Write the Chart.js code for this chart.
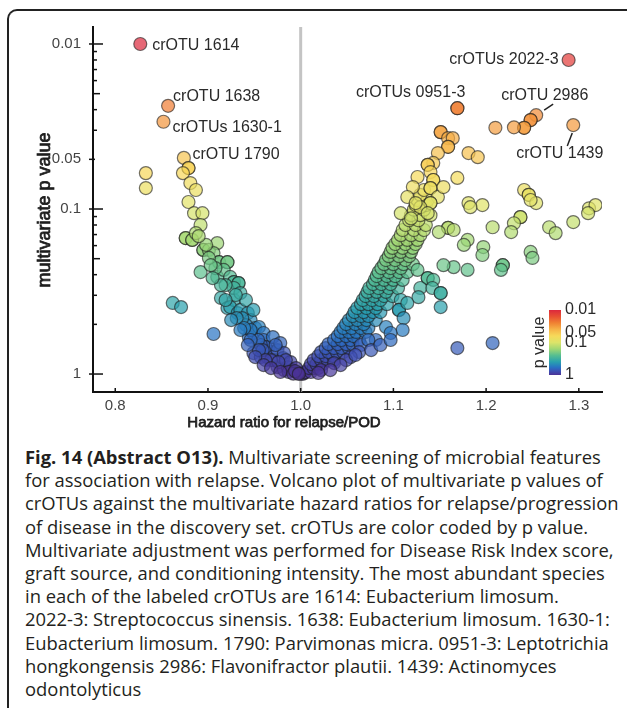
<!DOCTYPE html>
<html>
<head>
<meta charset="utf-8">
<script src="https://cdn.jsdelivr.net/npm/chart.js@4.4.0/dist/chart.umd.min.js"></script>
<style>
  body{margin:0;background:#fff;}
  #wrap{position:relative;width:627px;height:708px;overflow:hidden;background:#fff;}
  #frame{position:absolute;left:7px;top:9px;width:660px;height:720px;border-top:2px solid #222;border-left:2px solid #222;border-top-left-radius:10px;}
  #chart{position:absolute;left:0;top:0;}
  #caption{position:absolute;left:25px;top:445px;font-family:"Open Sans","Noto Sans",sans-serif;font-size:16px;line-height:23.2px;color:#231f20;white-space:nowrap;}
  #caption b{font-weight:700;}
</style>
</head>
<body>
<div id="wrap">
  <div id="frame"></div>
  <canvas id="chart" width="627" height="440"></canvas>
  <div id="caption">
    <div><b>Fig. 14 (Abstract O13).</b> Multivariate screening of microbial features</div>
    <div id="fitLine">for association with relapse. Volcano plot of multivariate p values of</div>
    <div>crOTUs against the multivariate hazard ratios for relapse/progression</div>
    <div>of disease in the discovery set. crOTUs are color coded by p value.</div>
    <div>Multivariate adjustment was performed for Disease Risk Index score,</div>
    <div>graft source, and conditioning intensity. The most abundant species</div>
    <div>in each of the labeled crOTUs are 1614: Eubacterium limosum.</div>
    <div>2022-3: Streptococcus sinensis. 1638: Eubacterium limosum. 1630-1:</div>
    <div>Eubacterium limosum. 1790: Parvimonas micra. 0951-3: Leptotrichia</div>
    <div>hongkongensis 2986: Flavonifractor plautii. 1439: Actinomyces</div>
    <div>odontolyticus</div>
  </div>
</div>
<script>
/* volcano plot: hazard ratio vs multivariate p */

// [hazard ratio, p value]
const leftArm = [
  [0.827,0.0100],[0.857,0.0237],[0.852,0.0296],[0.874,0.049],[0.879,0.0565],[0.879,0.0565],
  [0.873,0.0606],[0.833,0.0606],[0.833,0.0747],[0.881,0.0696],[0.887,0.0767],[0.879,0.0907],
  [0.885,0.106],[0.894,0.106],[0.892,0.125],[0.876,0.150],[0.876,0.150],[0.883,0.154],[0.883,0.154],
  [0.887,0.140],[0.895,0.177],[0.895,0.177],[0.901,0.177],[0.910,0.161],[0.906,0.185],[0.892,0.241],
  [0.912,0.210],[0.912,0.210],[0.921,0.210],[0.921,0.210],[0.910,0.258],[0.917,0.234],[0.924,0.258],
  [0.928,0.277],[0.928,0.277],[0.933,0.281],[0.933,0.281],[0.914,0.346],[0.921,0.398],[0.928,0.356],
  [0.928,0.301],[0.935,0.323],[0.924,0.393],[0.932,0.427],[0.935,0.409],[0.941,0.356],[0.943,0.427],
  [0.862,0.371],[0.871,0.393],[0.906,0.572],[0.946,0.471],[0.951,0.526],[0.949,0.409],[0.944,0.597],
  [0.949,0.564],[0.955,0.519],[0.960,0.564],[0.949,0.746],[0.957,0.789],[0.960,0.622],[0.964,0.789],
  [0.965,0.686],[0.970,0.597],[0.968,0.736],[0.971,0.823],[0.975,0.716],[0.975,0.907],[0.978,0.649],
  [0.981,0.800],[0.982,0.746],[0.982,0.946],[0.986,0.907],[0.989,0.846],[0.991,0.946],[0.995,0.920],
  [0.997,0.986],[0.962,0.686],[0.973,0.667],[0.984,0.823],[0.987,0.972],[0.992,0.995],[0.957,0.667],
  [0.954,0.622],[0.941,0.505],[0.937,0.458],[0.946,0.541],[0.959,0.716],[0.968,0.823],[0.976,0.846],
  [0.994,0.959],[0.998,0.998],[0.919,0.289],[0.908,0.228],[0.901,0.198],[0.903,0.219],[0.898,0.165],
  [0.890,0.146],[0.930,0.332],
  [0.931,0.458],[0.939,0.526],[0.946,0.622],[0.955,0.716],[0.962,0.823],[0.919,0.356],[0.925,0.471],
  [0.935,0.541],[0.943,0.667],[0.951,0.789],[0.960,0.882],[0.968,0.920],[0.978,0.972],[0.914,0.289],
  [0.905,0.262]
];

const rightArm = [
  [1.289,0.0125],[1.169,0.0245],[1.169,0.0245],[1.254,0.0270],[1.248,0.0289],[1.248,0.0289],
  [1.241,0.0322],[1.241,0.0322],[1.230,0.032],[1.210,0.0322],[1.294,0.031],[1.151,0.0342],[1.151,0.0342],
  [1.159,0.0372],[1.164,0.0372],[1.159,0.042],[1.159,0.042],[1.148,0.0458],[1.143,0.0526],[1.181,0.0458],
  [1.191,0.0485],[1.137,0.054],[1.137,0.054],[1.140,0.0597],[1.126,0.064],[1.143,0.0667],[1.143,0.0667],
  [1.169,0.0648],[1.241,0.0767],[1.246,0.082],[1.246,0.082],[1.254,0.092],[1.121,0.0736],[1.140,0.0747],
  [1.140,0.0747],[1.148,0.0846],[1.181,0.092],[1.196,0.0947],[1.311,0.099],[1.318,0.0947],[1.140,0.092],
  [1.140,0.092],[1.129,0.0975],[1.310,0.106],[1.294,0.120],[1.268,0.129],[1.275,0.140],[1.248,0.0882],
  [1.237,0.112],[1.237,0.112],[1.230,0.122],[1.227,0.138],[1.207,0.129],[1.183,0.0975],[1.159,0.130],
  [1.159,0.130],[1.149,0.138],[1.165,0.134],[1.180,0.154],[1.176,0.165],[1.197,0.170],[1.196,0.190],
  [1.218,0.219],[1.218,0.219],[1.216,0.234],[1.248,0.182],[1.250,0.198],[1.180,0.234],[1.165,0.225],
  [1.154,0.219],[1.137,0.262],[1.137,0.262],[1.143,0.269],[1.126,0.234],[1.129,0.301],[1.142,0.301],
  [1.151,0.323],[1.151,0.323],[1.151,0.393],[1.127,0.342],[1.108,0.356],[1.106,0.409],[1.106,0.409],
  [1.115,0.371],[1.111,0.458],[1.110,0.541],[1.092,0.519],[1.097,0.564],[1.081,0.622],[1.065,0.667],
  [1.063,0.736],[1.169,0.696],[1.207,0.649],[1.115,0.0846],[1.108,0.106],[1.124,0.092],[1.137,0.106],
  [1.119,0.114],[1.154,0.0736],[1.054,0.789],[1.036,0.858],[1.022,0.946],[1.073,0.622],
  [1.049,0.823],[1.059,0.767],[1.076,0.716],[1.086,0.667],[1.097,0.622],[1.043,0.882],[1.032,0.946],
  [1.019,0.986]
];

const rightBand = [
  [1.002,0.998],[1.004,0.985],[1.005,0.972],[1.011,0.972],
  [1.009,0.920],[1.014,0.920],[1.019,0.920],
  [1.011,0.870],[1.017,0.870],[1.024,0.870],
  [1.014,0.823],[1.022,0.823],[1.029,0.823],[1.036,0.823],
  [1.019,0.778],[1.027,0.778],[1.035,0.778],
  [1.022,0.736],[1.030,0.736],[1.039,0.736],[1.046,0.736],
  [1.027,0.696],[1.036,0.696],[1.044,0.696],[1.052,0.696],
  [1.030,0.658],[1.040,0.658],[1.049,0.658],[1.056,0.658],
  [1.036,0.622],[1.044,0.622],[1.054,0.622],[1.063,0.622],
  [1.040,0.589],[1.049,0.589],[1.057,0.589],
  [1.043,0.556],[1.052,0.556],[1.060,0.556],[1.070,0.556],
  [1.046,0.526],[1.055,0.526],[1.065,0.526],[1.073,0.526],
  [1.049,0.498],[1.059,0.498],[1.068,0.498],
  [1.052,0.471],[1.061,0.471],[1.071,0.471],[1.081,0.471],
  [1.056,0.445],[1.065,0.445],[1.073,0.445],
  [1.058,0.421],[1.068,0.421],[1.078,0.421],[1.086,0.421],
  [1.061,0.398],[1.071,0.398],[1.081,0.398],
  [1.065,0.377],[1.073,0.377],[1.083,0.377],[1.093,0.377],
  [1.067,0.356],[1.077,0.356],[1.086,0.356],
  [1.070,0.337],[1.079,0.337],[1.090,0.337],[1.099,0.337],
  [1.072,0.318],[1.082,0.318],[1.092,0.318],
  [1.074,0.301],[1.084,0.301],[1.095,0.301],[1.105,0.301],
  [1.078,0.285],[1.087,0.285],[1.097,0.285],
  [1.080,0.269],[1.090,0.269],[1.100,0.269],[1.110,0.269],
  [1.082,0.255],[1.093,0.255],[1.102,0.255],
  [1.084,0.241],[1.095,0.241],[1.106,0.241],[1.115,0.241],
  [1.087,0.228],[1.097,0.228],[1.108,0.228],
  [1.090,0.216],[1.100,0.216],[1.111,0.216],[1.121,0.216],
  [1.092,0.204],[1.102,0.204],[1.113,0.204],
  [1.095,0.193],[1.106,0.193],[1.117,0.193],
  [1.097,0.182],[1.108,0.182],[1.119,0.182],
  [1.099,0.172],[1.110,0.172],[1.121,0.172],
  [1.102,0.163],[1.113,0.163],[1.124,0.163],
  [1.105,0.154],[1.115,0.154],[1.126,0.154],
  [1.108,0.144],[1.119,0.144],[1.129,0.144],
  [1.110,0.134],[1.122,0.134],[1.133,0.134],
  [1.113,0.125],[1.124,0.125],[1.135,0.125],
  [1.117,0.117],[1.127,0.117],
  [1.119,0.109],[1.129,0.109],[1.140,0.109],
  [1.122,0.101],[1.133,0.101],
  [1.124,0.0947],[1.135,0.0947],
  [1.126,0.0882],[1.137,0.0882],
  [1.129,0.082],[1.133,0.0767]
];

const labelNames = ['crOTU 1614','crOTU 1638','crOTUs 1630-1','crOTU 1790','crOTUs 2022-3','crOTUs 0951-3','crOTU 2986','crOTU 1439'];
const labelHR    = [0.827, 0.857, 0.852, 0.879, 1.289, 1.169, 1.254, 1.294];
const labelP     = [0.0100, 0.0237, 0.0296, 0.0565, 0.0125, 0.0245, 0.0270, 0.031];

const xTicks = [0.8, 0.9, 1.0, 1.1, 1.2, 1.3];
const pTicks = [0.01, 0.05, 0.1, 1];
const pTickText = ['0.01', '0.05', '0.1', '1'];
const xTitle = 'Hazard ratio for relapse/POD';
const yTitle = 'multivariate p value';

// colour ramp for p (t = 0 at p=1, t = 1 at p=0.01)
const ramp = [
  [0.00, 76, 50,150],[0.06, 60, 80,180],[0.12, 40,115,195],[0.20, 40,160,175],
  [0.30, 85,190,145],[0.40,160,215,115],[0.50,220,228,105],[0.60,246,218, 90],
  [0.70,246,180, 72],[0.80,240,130, 50],[0.90,232, 80, 50],[1.00,220, 40, 60]
];
function rampColor(t, a){
  t = Math.min(1, Math.max(0, t));
  let i = 0;
  while(i < ramp.length-2 && t > ramp[i+1][0]) i++;
  const [t0,r0,g0,b0] = ramp[i], [t1,r1,g1,b1] = ramp[i+1];
  const f = (t - t0) / (t1 - t0);
  const c = [r0+(r1-r0)*f, g0+(g1-g0)*f, b0+(b1-b0)*f].map(Math.round);
  return `rgba(${c[0]},${c[1]},${c[2]},${a})`;
}
const pT = p => Math.log10(1/p) / 2;

// label placement, relative to the point (px)
const labelLayout = [
  {dx:12,  dy:2,   align:'left'},
  {dx:5,   dy:-9,  align:'left'},
  {dx:9,   dy:6,   align:'left'},
  {dx:4,   dy:-13, align:'left'},
  {dx:-10, dy:0,   align:'right'},
  {dx:8,   dy:-16, align:'right'},
  {dx:-35, dy:-20, align:'left', lead:[8,-5,17,-11]},
  {dx:-57, dy:29,  align:'left', lead:[-1,8,-6,21]}
];

const FONT = '"Liberation Sans", Arial, sans-serif';
Chart.defaults.font.family = FONT;

// no bold face installed for the sans: thicken the regular one
function boldText(ctx, s, x, y, size){
  ctx.font = size + 'px ' + FONT;
  ctx.fillText(s, x, y);
  ctx.lineWidth = 0.75; ctx.strokeStyle = ctx.fillStyle;
  ctx.strokeText(s, x, y);
}

const decor = {
  id:'decor',
  beforeDatasetsDraw(chart){
    const {ctx, chartArea:a, scales:{x}} = chart;
    const px = x.getPixelForValue(1.0);
    ctx.save();
    ctx.strokeStyle = '#c4c4c4'; ctx.lineWidth = 3;
    ctx.beginPath(); ctx.moveTo(px, a.top); ctx.lineTo(px, a.bottom); ctx.stroke();
    ctx.restore();
  },
  afterDatasetsDraw(chart){
    const {ctx, chartArea:a, scales:{x, y}} = chart;
    ctx.save();
    // point labels
    ctx.font = '16px ' + FONT; ctx.fillStyle = '#2a2a2a'; ctx.textBaseline = 'middle';
    ctx.strokeStyle = '#222'; ctx.lineWidth = 1.5;
    labelNames.forEach((name, i)=>{
      const px = x.getPixelForValue(labelHR[i]), py = y.getPixelForValue(1/labelP[i]);
      const L = labelLayout[i];
      ctx.textAlign = L.align;
      ctx.fillText(name, px + L.dx, py + L.dy);
      if(L.lead){
        ctx.beginPath(); ctx.moveTo(px+L.lead[0], py+L.lead[1]); ctx.lineTo(px+L.lead[2], py+L.lead[3]); ctx.stroke();
      }
    });
    // colour bar
    const bw = 12, bh = 65, bx = a.right - 53, by = a.bottom - 82;
    const g = ctx.createLinearGradient(0, by + bh, 0, by);
    ramp.forEach(s => g.addColorStop(s[0], rampColor(s[0], 1)));
    ctx.fillStyle = g; ctx.fillRect(bx, by, bw, bh);
    ctx.fillStyle = '#2a2a2a'; ctx.textAlign = 'left'; ctx.font = '16px ' + FONT;
    pTicks.forEach((p, i)=>{
      ctx.fillText(pTickText[i], bx + bw + 4, by + bh * (1 - pT(p)));
    });
    ctx.save();
    ctx.translate(bx - 9, by + bh/2); ctx.rotate(-Math.PI/2);
    ctx.textAlign = 'center';
    ctx.fillText('p value', 0, 0);
    ctx.restore();
    // axis titles
    ctx.fillStyle = '#1e1e1e'; ctx.textAlign = 'center';
    boldText(ctx, xTitle, a.left + 191, a.bottom + 31, 15);
    ctx.translate(a.left - 48, a.top + 183); ctx.rotate(-Math.PI/2);
    boldText(ctx, yTitle, 0, 0, 18);
    ctx.restore();
  },
  afterDraw(chart){
    const {ctx, chartArea:a, scales:{x, y}} = chart;
    ctx.save();
    ctx.strokeStyle = '#111'; ctx.lineWidth = 1.5;
    y.ticks.forEach(t=>{
      const v = t.value, py = y.getPixelForValue(v);
      const k = Math.round(v / Math.pow(10, Math.floor(Math.log10(v) + 1e-9)));
      const labelled = pTicks.some(p => Math.abs(1/p - v) < 1e-6 * v);
      let l = 0, r = 4;
      if(labelled && k === 1){ l = -4; r = 10; }
      else if(labelled){ l = -4; r = 2; }
      else if(k === 5){ r = 7; }
      ctx.beginPath(); ctx.moveTo(a.left + l, py); ctx.lineTo(a.left + r, py); ctx.stroke();
    });
    xTicks.forEach(v=>{
      const px = x.getPixelForValue(v);
      ctx.beginPath(); ctx.moveTo(px, a.bottom); ctx.lineTo(px, a.bottom - 4); ctx.stroke();
    });
    ctx.restore();
  }
};

const pts = [...rightBand, ...rightArm, ...leftArm].map(([hr, p]) => ({x:hr, y:1/p, p}));

new Chart(document.getElementById('chart'), {
  type:'scatter',
  data:{datasets:[{
    data:pts,
    pointRadius:6.5, pointHoverRadius:6.5, borderWidth:1.2,
    backgroundColor:pts.map(d => rampColor(pT(d.p), 0.7)),
    borderColor:'rgba(30,30,30,0.62)'
  }]},
  options:{
    responsive:false, animation:false,
    layout:{padding:{top:27, right:25, left:0, bottom:0}},
    plugins:{legend:{display:false}, tooltip:{enabled:false}},
    scales:{
      x:{
        type:'linear', min:0.776, max:1.325,
        afterBuildTicks:s => { s.ticks = xTicks.map(v => ({value:v})); },
        afterFit:s => { s.height = 48; },
        grid:{display:false, drawTicks:false},
        border:{display:true, color:'#111', width:2},
        ticks:{padding:5, color:'#444', font:{size:15}, callback:v => v.toFixed(1)}
      },
      y:{
        type:'logarithmic', min:1/1.285, max:1/0.00789,
        afterBuildTicks:s => {
          const t = [];
          [1, 10].forEach(d => { for(let k = 1; k < 10; k++) t.push({value:k*d}); });
          t.push({value:100});
          s.ticks = t;
        },
        afterFit:s => { s.width = 93; },
        grid:{display:false, drawTicks:false},
        border:{display:true, color:'#111', width:2},
        ticks:{
          padding:12, autoSkip:false, color:'#444', font:{size:15},
          callback:v => { const i = pTicks.findIndex(p => Math.abs(1/p - v) < 1e-6 * v); return i < 0 ? '' : pTickText[i]; }
        }
      }
    }
  },
  plugins:[decor]
});

// fit caption width to the reference line length
const fit = document.getElementById('fitLine');
const span = document.createElement('span');
span.textContent = fit.textContent; fit.textContent = ''; fit.appendChild(span);
const w = span.getBoundingClientRect().width;
document.getElementById('caption').style.fontSize = (16 * 578 / w).toFixed(2) + 'px';
</script>
</body>
</html>
